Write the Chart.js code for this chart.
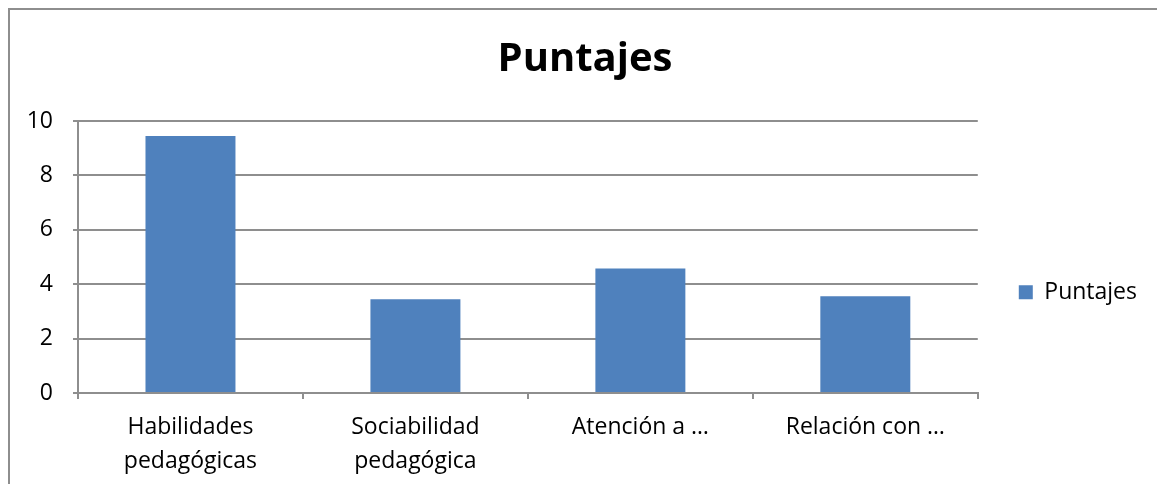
<!DOCTYPE html>
<html>
<head>
<meta charset="utf-8">
<script src="https://cdn.jsdelivr.net/npm/chart.js@4/dist/chart.umd.min.js"></script>
<style>
  html, body { margin: 0; padding: 0; background: #fff; }
  #wrap { position: relative; width: 1157px; height: 484px; overflow: hidden; }
  #frame { position: absolute; left: 8px; top: 8px; width: 1200px; height: 500px;
           border-left: 2px solid #8e8e8e; border-top: 2px solid #8e8e8e; box-sizing: border-box; }
  canvas { position: absolute; left: 0; top: 0; }
</style>
</head>
<body>
<div id="wrap">
  <div id="frame"></div>
  <canvas id="chart" width="1157" height="484"></canvas>
</div>
<script>
(function () {
    // data
    let categories = [
            ["Habilidades", "pedagógicas"],
            ["Sociabilidad", "pedagógica"],
            "Atención a …",
            "Relación con …"
        ],
        puntajes = [9.45, 3.45, 4.58, 3.56],
        yTicks = [0, 2, 4, 6, 8, 10],
        seriesName = "Puntajes",
        titleText = "Puntajes";

    let fontFam = "'Open Sans', 'DejaVu Sans', sans-serif",
        gridCol = "#8e8e8e",
        txtSize = 23;

    Chart.defaults.font.family = fontFam;
    Chart.defaults.color = "#000";

    var ctx = document.getElementById("chart");
    var myChart = new Chart(ctx, {
        type: "bar",
        data: {
            labels: categories,
            datasets: [{
                label: seriesName,
                data: puntajes,
                backgroundColor: "#4f81bd",
                borderWidth: 0,
                barPercentage: 0.4,
                categoryPercentage: 1
            }]
        },
        options: {
            responsive: false,
            animation: false,
            layout: { padding: { left: 23, right: 10, top: 0, bottom: 0 } },
            plugins: {
                title: {
                    display: true,
                    text: titleText,
                    font: { size: 40, weight: "bold" },
                    color: "#000",
                    padding: { top: 36, bottom: 37 }
                },
                legend: {
                    position: "right",
                    // empty legend title only pushes the entry down a bit
                    title: { display: true, text: "", padding: { top: 43, bottom: 43 } },
                    labels: {
                        boxWidth: 14,
                        boxHeight: 14,
                        padding: 10,
                        font: { size: txtSize },
                        color: "#000"
                    }
                },
                tooltip: { enabled: false }
            },
            scales: {
                x: {
                    grid: {
                        display: true,
                        drawOnChartArea: false,
                        drawTicks: true,
                        tickLength: 6,
                        color: gridCol,
                        lineWidth: 2
                    },
                    border: { display: true, color: gridCol, width: 2 },
                    ticks: {
                        font: { size: txtSize, lineHeight: 1.45 },
                        color: "#000",
                        padding: 12,
                        maxRotation: 0,
                        autoSkip: false
                    },
                    afterFit: function (scale) { scale.height = 91; }
                },
                y: {
                    min: 0,
                    max: 10,
                    afterBuildTicks: function (scale) {
                        scale.ticks = yTicks.map(v => ({ value: v }));
                    },
                    grid: {
                        color: gridCol,
                        lineWidth: 2,
                        tickLength: 5
                    },
                    border: { display: true, color: gridCol, width: 2 },
                    ticks: {
                        font: { size: txtSize },
                        color: "#000",
                        padding: 20
                    },
                    afterFit: function (scale) { scale.width = 78 - 23; }
                },
                // empty gap between the plot and the legend
                gap: {
                    type: "linear",
                    position: "right",
                    display: true,
                    grid: { display: false },
                    border: { display: false },
                    ticks: { display: false },
                    afterFit: function (scale) { scale.width = 31; }
                }
            }
        }
    });
})();
</script>
</body>
</html>
